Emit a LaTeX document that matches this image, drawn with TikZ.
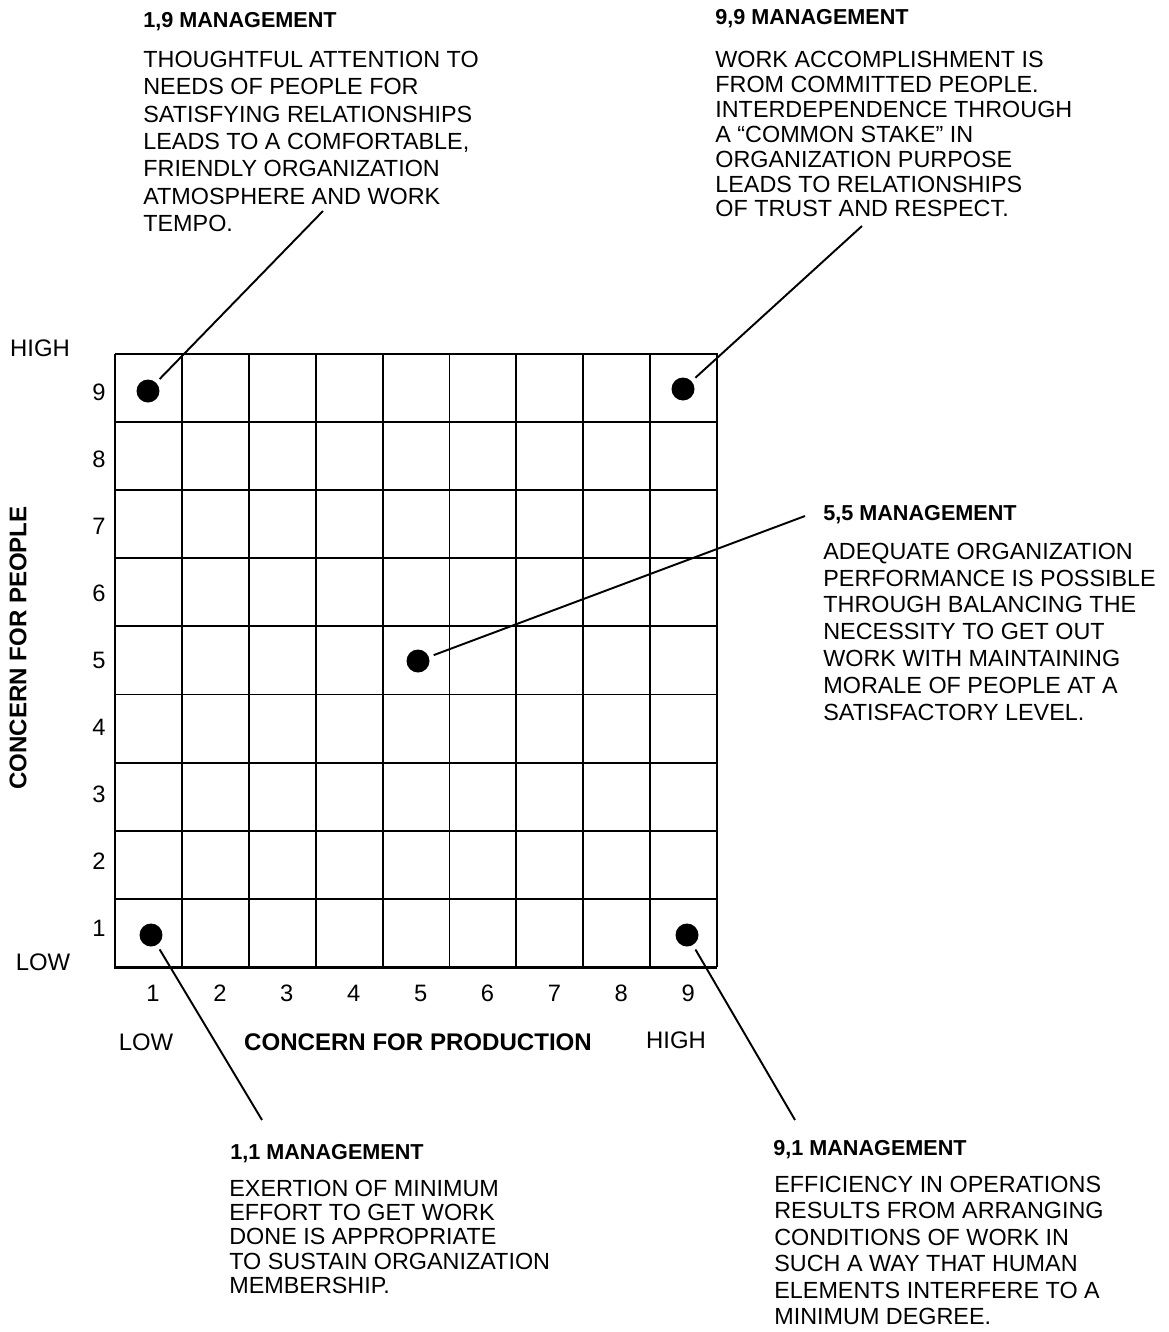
\documentclass[tikz,border=0pt]{standalone}
\usepackage{fontspec}
\setmainfont{Liberation Sans}

\tikzset{
  gridline/.style={line width=1.1pt},
  frameline/.style={line width=1.7pt},
  leader/.style={line width=1.1pt},
  mgmtdot/.style={circle, fill, inner sep=0pt, minimum size=0.46cm, outer sep=3pt},
  mgmttitle/.style={font=\fontsize{12.3}{14}\selectfont\bfseries, anchor=base west, inner sep=0pt},
  mgmttext/.style={font=\fontsize{13.3}{#1}\selectfont, align=left, anchor=north west, inner sep=0pt},
  scalenum/.style={font=\fontsize{13.5}{16}\selectfont, inner sep=0pt},
  scaleword/.style={font=\fontsize{13.6}{16}\selectfont, inner sep=0pt},
  axislabel/.style={font=\fontsize{13.7}{16}\selectfont\bfseries, inner sep=0pt},
}

\begin{document}
\begin{tikzpicture}[x=0.02cm, y=-0.02cm]
        \useasboundingbox (0,0) rectangle (1169,1332);

        \foreach \i in {1,...,8} {
            \draw[gridline] ({115+\i*66.9},354) -- ({115+\i*66.9},967);
            \draw[gridline] (115,{354+\i*68.1}) -- (717,{354+\i*68.1});
        }
        \draw[gridline] (115,354) -- (717,354) -- (717,967);
        \draw[frameline] (115,354) -- (115,967) -- (717,967);

        \foreach \n in {1,...,9} {
            \node[scalenum] (x\n) at ({153+(\n-1)*66.9},993) {\n};
            \node[scalenum] (y\n) at (99,{928-(\n-1)*66.9}) {\n};
        }

        \node[scaleword] (yhigh) at (40,348) {HIGH};
        \node[scaleword] (ylow) at (43,962) {LOW};
        \node[scaleword] (xlow) at (146,1042) {LOW};
        \node[scaleword] (xhigh) at (676,1040) {HIGH};
        \node[axislabel, rotate=90] (people) at (18,648) {CONCERN FOR PEOPLE};
        \node[axislabel] (production) at (418,1042) {CONCERN FOR PRODUCTION};

        \node[mgmtdot] (d19) at (148,391) {};
        \node[mgmtdot] (d99) at (683,389) {};
        \node[mgmtdot] (d55) at (418,661) {};
        \node[mgmtdot] (d11) at (151,935) {};
        \node[mgmtdot] (d91) at (687,935) {};

        \coordinate (e19) at (323,211);
        \coordinate (e99) at (862,226);
        \coordinate (e55) at (805,516);
        \coordinate (e11) at (262,1120);
        \coordinate (e91) at (795,1120);
        \draw[leader] (d19) -- (e19);
        \draw[leader] (d99) -- (e99);
        \draw[leader] (d55) -- (e55);
        \draw[leader] (d11) -- (e11);
        \draw[leader] (d91) -- (e91);

        \node[mgmttitle] (t19) at (143,27.7) {1,9 MANAGEMENT};
        \node[mgmttext=15.6] (b19) at (143,50.6) {THOUGHTFUL ATTENTION TO\\NEEDS OF PEOPLE FOR\\SATISFYING RELATIONSHIPS\\LEADS TO A COMFORTABLE,\\FRIENDLY ORGANIZATION\\ATMOSPHERE AND WORK\\TEMPO.};

        \node[mgmttitle] (t99) at (715,24.2) {9,9 MANAGEMENT};
        \node[mgmttext=14.2] (b99) at (715,50.6) {WORK ACCOMPLISHMENT IS\\FROM COMMITTED PEOPLE.\\INTERDEPENDENCE THROUGH\\A ``COMMON STAKE'' IN\\ORGANIZATION PURPOSE\\LEADS TO RELATIONSHIPS\\OF TRUST AND RESPECT.};

        \node[mgmttitle] (t55) at (823,520.7) {5,5 MANAGEMENT};
        \node[mgmttext=15.25] (b55) at (823,542.6) {ADEQUATE ORGANIZATION\\PERFORMANCE IS POSSIBLE\\THROUGH BALANCING THE\\NECESSITY TO GET OUT\\WORK WITH MAINTAINING\\MORALE OF PEOPLE AT A\\SATISFACTORY LEVEL.};

        \node[mgmttitle] (t11) at (230,1159.7) {1,1 MANAGEMENT};
        \node[mgmttext=13.85] (b11) at (229,1179.6) {EXERTION OF MINIMUM\\EFFORT TO GET WORK\\DONE IS APPROPRIATE\\TO SUSTAIN ORGANIZATION\\MEMBERSHIP.};

        \node[mgmttitle] (t91) at (773,1155.7) {9,1 MANAGEMENT};
        \node[mgmttext=15.1] (b91) at (774,1175.6) {EFFICIENCY IN OPERATIONS\\RESULTS FROM ARRANGING\\CONDITIONS OF WORK IN\\SUCH A WAY THAT HUMAN\\ELEMENTS INTERFERE TO A\\MINIMUM DEGREE.};
    \end{tikzpicture}
\end{document}
